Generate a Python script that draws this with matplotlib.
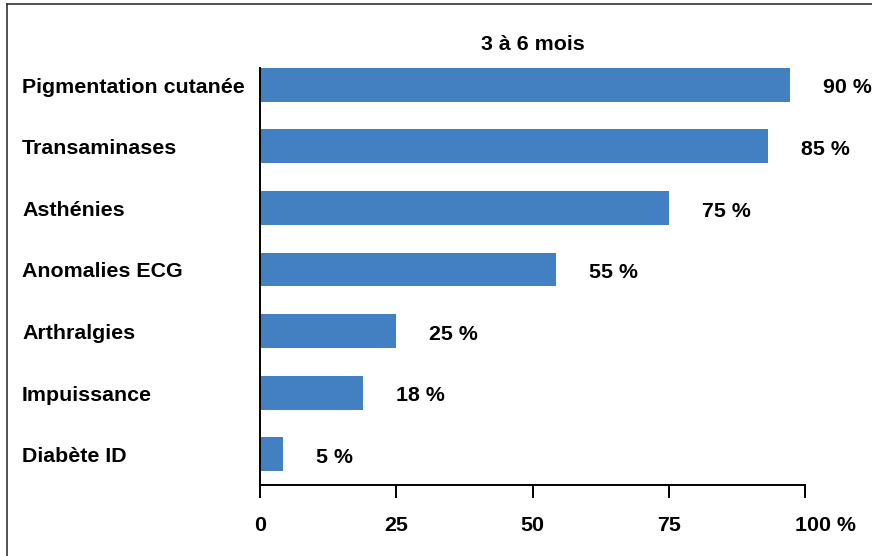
import matplotlib
matplotlib.use("Agg")
import matplotlib.pyplot as plt
import matplotlib.transforms as mtransforms
from matplotlib.lines import Line2D

plt.rcParams["font.family"] = ["Liberation Sans", "DejaVu Sans"]
plt.rcParams["font.weight"] = "bold"

# Data
categories = ["Pigmentation cutanée", "Transaminases", "Asthénies",
              "Anomalies ECG", "Arthralgies", "Impuissance", "Diabète ID"]
bar_values = [97.3, 93.3, 75.1, 54.4, 25.0, 18.9, 4.2]
value_labels = ["90 %", "85 %", "75 %", "55 %", "25 %", "18 %", "5 %"]
x_ticks = [0, 25, 50, 75, 100]
x_tick_labels = ["0", "25", "50", "75", "100 %"]
title = "3 à 6 mois"

W, H = 872, 556
fs = 15.4
fig = plt.figure(figsize=(W / 100, H / 100), dpi=100)
ax = fig.add_axes([260 / W, 1 - 485 / H, (805 - 260) / W, (485 - 54) / H])

ypos = list(range(len(categories)))
ax.barh(ypos, bar_values, height=0.55, color="#4380C1", zorder=2)

ax.set_xlim(0, 100)
ax.set_ylim(len(categories) - 0.5, -0.5)

for y, v, lab in zip(ypos, bar_values, value_labels):
    ax.text(v + 6.0, y + 0.05, lab, ha="left", va="center",
            fontsize=fs, fontweight="bold")

# category labels, left aligned near the figure edge
trans = mtransforms.blended_transform_factory(fig.transFigure, ax.transData)
for y, c in zip(ypos, categories):
    ax.text(22 / W, y + 0.04, c, transform=trans, ha="left", va="center",
            fontsize=fs, fontweight="bold")

ax.set_yticks([])
ax.set_xticks(x_ticks)
ax.set_xticklabels(x_tick_labels, fontsize=fs, fontweight="bold")
ax.tick_params(axis="x", direction="out", length=9, width=1.4, pad=13,
               color="black")
lbl = ax.get_xticklabels()[-1]
lbl.set_transform(lbl.get_transform() +
                  mtransforms.ScaledTranslation(0.2, 0, fig.dpi_scale_trans))

for s in ["top", "right"]:
    ax.spines[s].set_visible(False)
ax.spines["left"].set_linewidth(1.4)
ax.spines["bottom"].set_linewidth(1.4)
ax.spines["left"].set_bounds(len(categories) - 0.5, -0.275)

ax.set_title(title, fontsize=fs, fontweight="bold", pad=2)

# partial frame around the figure
fig.add_artist(Line2D([7 / W, 7 / W], [0, 1 - 4 / H], color="#333333",
                      lw=1.2, transform=fig.transFigure))
fig.add_artist(Line2D([7 / W, 1], [1 - 4 / H, 1 - 4 / H], color="#333333",
                      lw=1.2, transform=fig.transFigure))

fig.savefig("out.png", dpi=100)
